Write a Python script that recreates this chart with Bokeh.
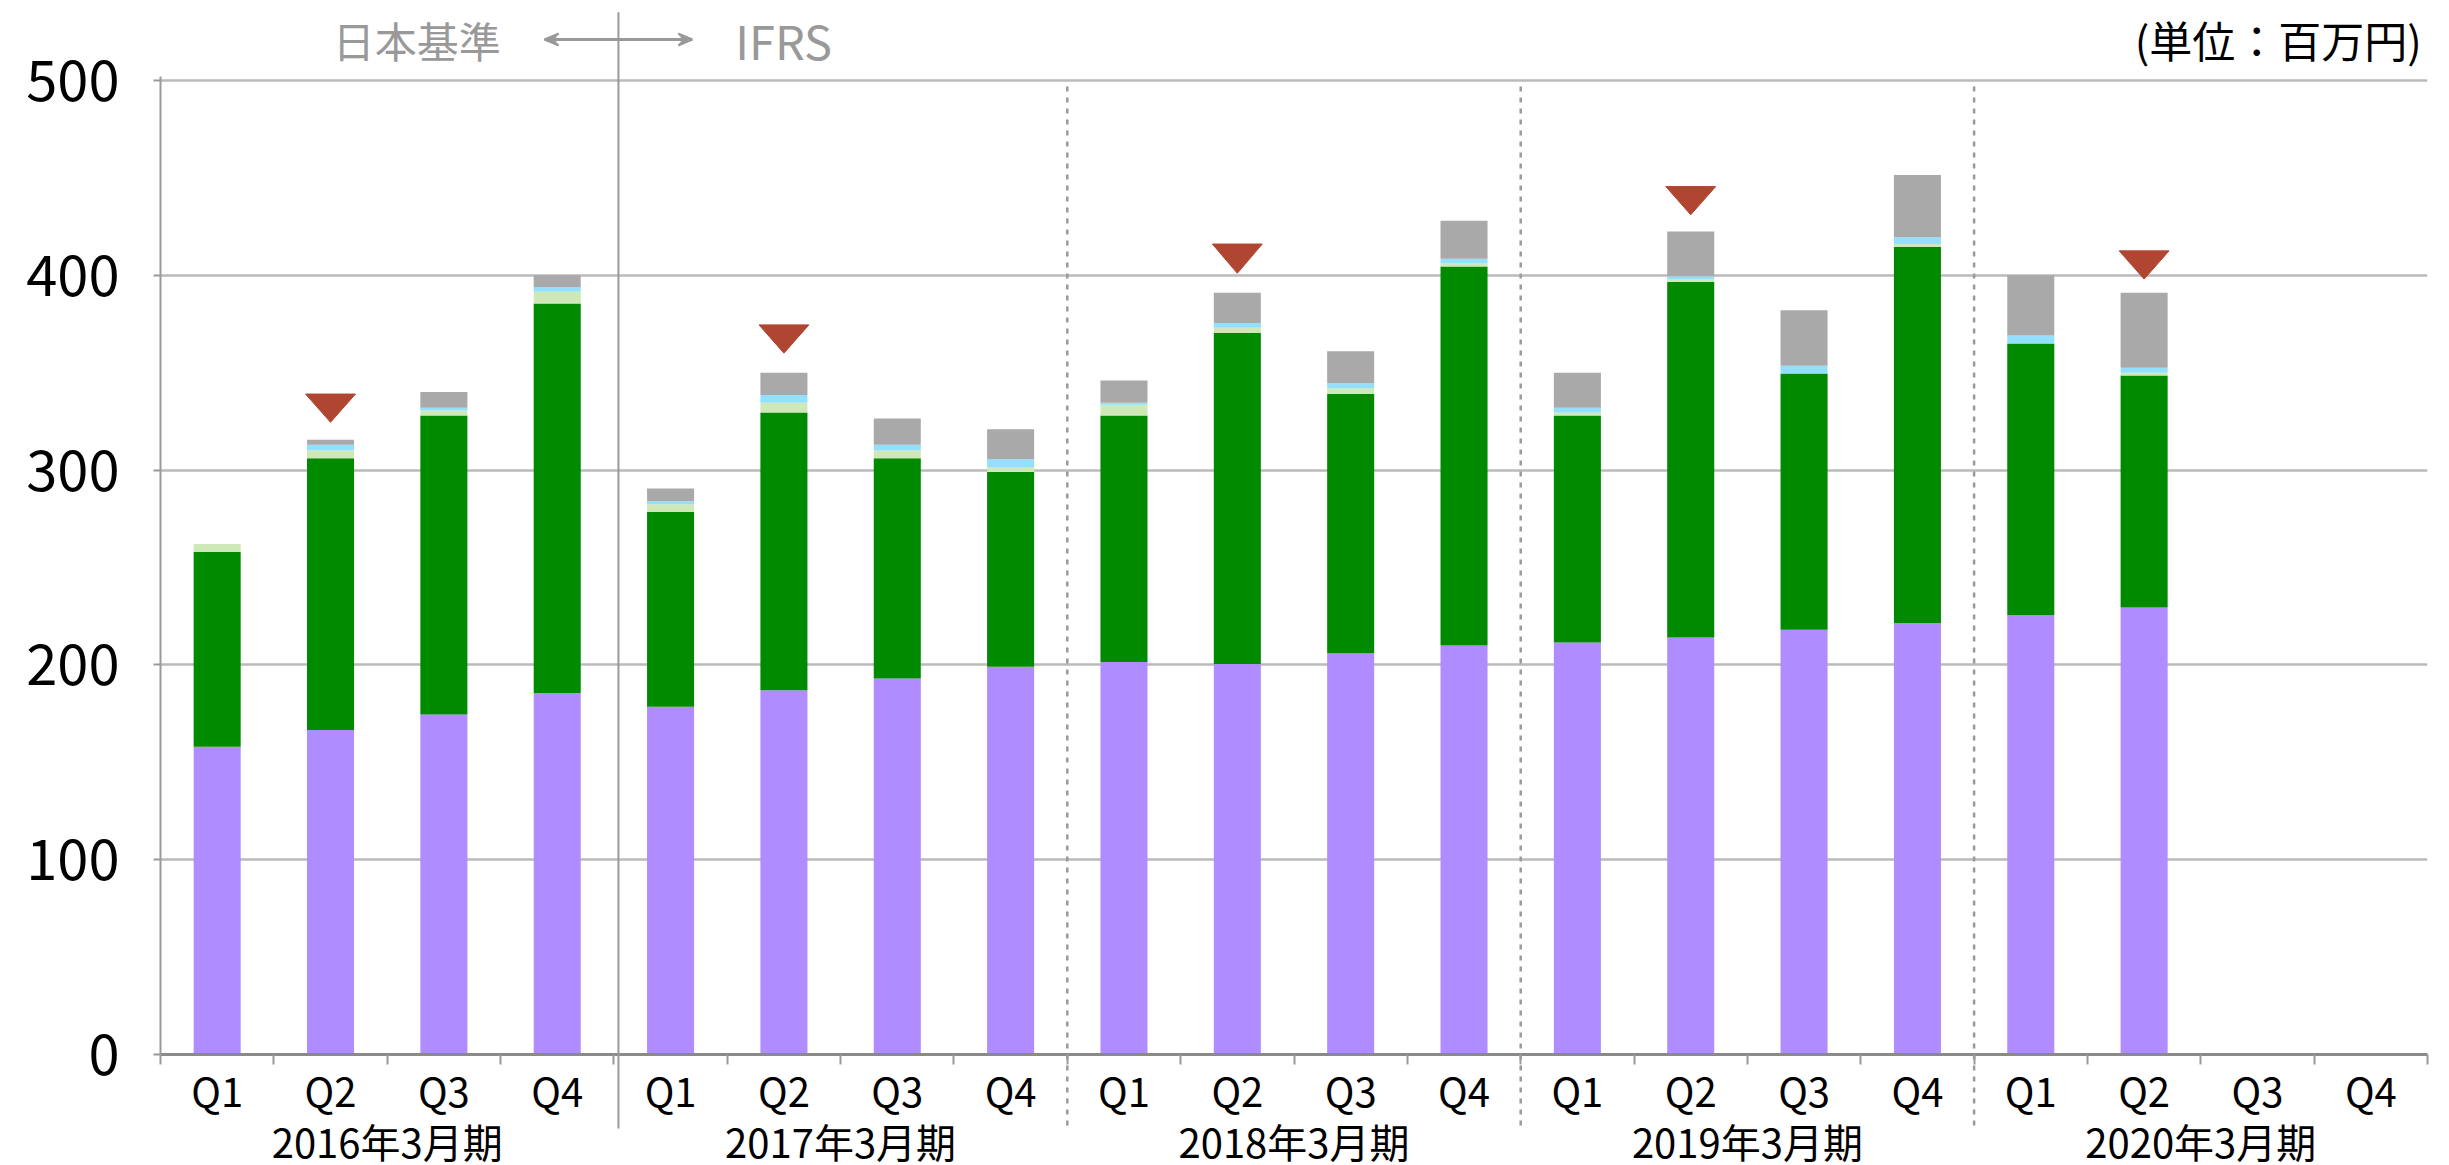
from bokeh.plotting import figure
from bokeh.models import Range1d, FixedTicker, LinearAxis, ColumnDataSource
from bokeh.core.properties import value
from bokeh.embed import file_html
from bokeh.resources import INLINE

# ---------------- data ----------------
fiscal_years = ["2016年3月期", "2017年3月期", "2018年3月期", "2019年3月期", "2020年3月期"]
quarters = ["Q1", "Q2", "Q3", "Q4"]

# stacked segments, bottom to top (百万円); 2020年3月期 Q3/Q4 not yet reported
seg_purple = [158, 166.5, 174.5, 185.5, 178.5, 187, 193, 199, 201.5, 200.5,
              206, 210, 211.5, 214, 218, 221.5, 225.5, 229.5, 0, 0]
seg_green = [100, 139.5, 153.5, 200, 100, 142.5, 113, 100, 126.5, 170,
             133, 194.5, 116.5, 182.5, 131.5, 193, 139.5, 119, 0, 0]
seg_lightgreen = [4, 4, 2.5, 6, 4, 5, 4, 2.5, 5.5, 2.5,
                  3, 1.5, 1.5, 1.5, 0, 1.5, 0, 1.5, 0, 0]
seg_cyan = [0, 3, 1.5, 2.5, 1.5, 4, 3, 4, 1, 2.5,
            2.5, 2.5, 2.5, 1.5, 4, 3.5, 4, 2.5, 0, 0]
seg_gray = [0, 2.5, 8, 6, 6.5, 11.5, 13.5, 15.5, 11.5, 15.5,
            16.5, 19.5, 18, 23, 28.5, 32, 31, 38.5, 0, 0]

# down-triangle flags over Q2 of each fiscal year (top edge / tip value)
flag_quarter = "Q2"
flag_top = [339, 374.5, 416, 445.5, 412.5]
flag_tip = [324.5, 360, 401, 431, 398]

y_ticks = [0, 100, 200, 300, 400, 500]
header_left = "日本基準"
header_right = "IFRS"
unit_label = "(単位：百万円)"

# ---------------- derived ----------------
n_q = len(quarters)
x_idx = list(range(len(fiscal_years) * n_q))
q_labels = {i: quarters[i % n_q] for i in x_idx}
year_pos = [fy * n_q + (n_q - 1) / 2 for fy in range(len(fiscal_years))]
year_labels = {pos: fy for pos, fy in zip(year_pos, fiscal_years)}

src = ColumnDataSource(dict(x=x_idx, purple=seg_purple, green=seg_green,
                            lightgreen=seg_lightgreen, cyan=seg_cyan, gray=seg_gray))

FONT_NAME = "Noto Sans CJK JP"
FONT = value(FONT_NAME)
GRAY_TXT = "#999999"

FRAME_W, FRAME_H = 2267, 978
X_RANGE = (-0.5, len(x_idx) - 0.5)
Y_RANGE = (0, 502)
px_x = (X_RANGE[1] - X_RANGE[0]) / FRAME_W   # data units per pixel
px_y = (Y_RANGE[1] - Y_RANGE[0]) / FRAME_H

p = figure(output_backend="svg", toolbar_location=None,
           x_range=Range1d(*X_RANGE), y_range=Range1d(*Y_RANGE),
           frame_width=FRAME_W, frame_height=FRAME_H,
           min_border_left=160, min_border_top=76, min_border_right=6, min_border_bottom=0)
p.outline_line_color = None
p.background_fill_color = "white"
p.xgrid.visible = False

p.vbar_stack(["purple", "green", "lightgreen", "cyan", "gray"], x="x", width=0.415, source=src,
             color=["#AF8CFF", "#008A00", "#CFE8B8", "#92E0FD", "#A9A9A9"],
             line_color=None)

# flags
fq = quarters.index(flag_quarter)
hw = 0.22
fx = [fy * n_q + fq for fy in range(len(fiscal_years))]
p.patches(xs=[[x - hw, x + hw, x] for x in fx],
          ys=[[t, t, b] for t, b in zip(flag_top, flag_tip)],
          fill_color="#B04632", line_color="#B04632", line_width=1)

# separators between fiscal years
boundary_std = n_q - 0.46
p.segment(x0=[boundary_std], x1=[boundary_std], y0=[-38], y1=[535],
          line_color="#9A9A9A", line_width=2, level="overlay")
dash_x = [fy * n_q - 0.5 for fy in range(2, len(fiscal_years))]
p.segment(x0=dash_x, x1=dash_x, y0=[-36.5] * len(dash_x), y1=[500] * len(dash_x),
          line_color="#9A9A9A", line_width=2.5, line_dash="5 6", level="overlay")

# header annotations
y_head = 521
p.text(x=[boundary_std - 1.78], y=[y_head], text=[header_left], text_align="center",
       text_baseline="middle", text_font=FONT, text_font_size="42px", text_color=GRAY_TXT,
       level="overlay")
p.text(x=[boundary_std + 1.03], y=[y_head], text=[header_right], text_align="left",
       text_baseline="middle", text_font=FONT, text_font_size="47px", text_color=GRAY_TXT,
       level="overlay")
arr_l, arr_r = boundary_std - 0.65, boundary_std + 0.65
p.segment(x0=[arr_l + 6 * px_x], x1=[arr_r - 6 * px_x], y0=[y_head], y1=[y_head],
          line_color=GRAY_TXT, line_width=3, level="overlay")
# stealth-style arrowheads drawn as a fan of short strokes from each tip
fan = [-6, -4.5, -3, -1.5, 0, 1.5, 3, 4.5, 6]
hx0, hx1, hy0, hy1 = [], [], [], []
for tip, sgn in ((arr_l, 1), (arr_r, -1)):
    for off in fan:
        length = 9 + 5 * abs(off) / 6
        hx0.append(tip)
        hy0.append(y_head)
        hx1.append(tip + sgn * length * px_x)
        hy1.append(y_head + off * px_y)
p.segment(x0=hx0, x1=hx1, y0=hy0, y1=hy1, line_color=GRAY_TXT, line_width=2,
          level="overlay")
p.text(x=[len(x_idx) - 0.55], y=[y_head], text=[unit_label], text_align="right",
       text_baseline="middle", text_font=FONT, text_font_size="43px", text_color="black",
       level="overlay")

# y axis
ya = p.yaxis[0]
ya.ticker = FixedTicker(ticks=y_ticks, minor_ticks=[])
ya.axis_line_color = "#9A9A9A"
ya.axis_line_width = 2
ya.major_tick_line_color = "#9A9A9A"
ya.major_tick_line_width = 2
ya.major_tick_out = 7
ya.major_tick_in = 0
ya.minor_tick_line_color = None
ya.major_label_standoff = 34
ya.major_label_text_font = FONT_NAME
ya.major_label_text_font_size = "56px"
ya.major_label_text_color = "black"
p.ygrid.ticker = FixedTicker(ticks=y_ticks)
p.ygrid.grid_line_color = "#BBBBBB"
p.ygrid.grid_line_width = 2.5

# x axis: quarter labels, ticks at category boundaries
xa = p.xaxis[0]
xa.ticker = FixedTicker(ticks=x_idx, minor_ticks=[i - 0.5 for i in range(len(x_idx) + 1)])
xa.major_label_overrides = q_labels
xa.major_tick_line_color = None
xa.major_tick_out = 0
xa.major_tick_in = 0
xa.minor_tick_line_color = "#9A9A9A"
xa.minor_tick_line_width = 2
xa.minor_tick_out = 10
xa.minor_tick_in = 0
xa.axis_line_color = "#8A8A8A"
xa.axis_line_width = 3
xa.major_label_standoff = -4
xa.major_label_text_font = FONT_NAME
xa.major_label_text_font_size = "40px"
xa.major_label_text_color = "black"

# second axis: fiscal year group labels
ga = LinearAxis(ticker=FixedTicker(ticks=year_pos, minor_ticks=[]),
                major_label_overrides=year_labels)
ga.axis_line_color = None
ga.major_tick_line_color = None
ga.minor_tick_line_color = None
ga.major_tick_out = 0
ga.major_label_standoff = -10
ga.major_label_text_font = FONT_NAME
ga.major_label_text_font_size = "40px"
ga.major_label_text_color = "black"
p.add_layout(ga, "below")

open("out.html", "w").write(file_html(p, INLINE))
